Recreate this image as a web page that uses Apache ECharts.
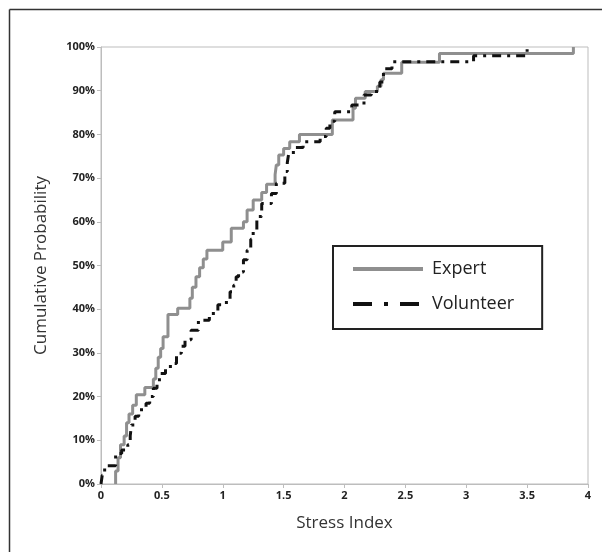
<!DOCTYPE html>
<html>
<head>
<meta charset="utf-8">
<script src="https://cdn.jsdelivr.net/npm/echarts@6/dist/echarts.min.js"></script>
<style>
html,body{margin:0;padding:0;background:#fff;}
#c{width:602px;height:552px;}
</style>
</head>
<body>
<div id="c"></div>
<script>
// Expert ECDF: stress index at each jump, cumulative % after the jump
const expertX = [0.12,0.12,0.14,0.16,0.19,0.21,0.23,0.26,0.29,0.36,0.43,0.45,0.47,0.49,0.51,0.55,0.63,0.73,0.75,0.78,0.81,0.84,0.87,1.00,1.07,1.17,1.20,1.25,1.32,1.36,1.43,1.44,1.46,1.50,1.55,1.63,1.90,2.07,2.09,2.17,2.27,2.30,2.32,2.47,2.78,3.88];
const expertP = [0,3,6,9,11,14,16,18,20.4,22.1,24,26.5,29,31,33.7,38.8,40.2,42.5,45,47.4,49.5,51.5,53.5,55.4,58.5,60,62.7,65,66.7,68.6,70.8,73,75.3,76.8,78.3,80,83.3,86,88.3,89.8,91,92.5,94,96.5,98.5,100];
// Volunteer ECDF
const volunteerX = [0,0.01,0.03,0.12,0.17,0.22,0.24,0.25,0.28,0.31,0.37,0.40,0.43,0.46,0.48,0.53,0.57,0.62,0.66,0.69,0.74,0.80,0.89,0.96,1.03,1.06,1.09,1.11,1.13,1.17,1.20,1.23,1.25,1.28,1.32,1.40,1.44,1.51,1.53,1.54,1.58,1.66,1.80,1.85,1.88,1.92,2.06,2.16,2.22,2.29,2.32,2.39,3.06,3.50];
const volunteerP = [0,2,4.2,7,7.8,9,11,13.5,15.5,17,18.5,20,21.9,23.5,25.3,26.5,27.6,29.9,31.5,33,35.2,37.5,39,41,42.1,44,45.5,47.4,48.5,51.3,53.5,56,58.1,61.2,64.2,66.5,68.8,71.5,73.5,75.3,77,78.3,79.5,81.4,83,85.2,86.7,89,89.8,92,95,96.6,98,99.5];
const seriesNames = ['Expert','Volunteer'];
const xTitle = 'Stress Index';
const yTitle = 'Cumulative Probability';

const pairs = (xs, ps) => xs.map((x, i) => [x, ps[i]]);
const FONT = '"Open Sans", sans-serif';

const chart = echarts.init(document.getElementById('c'), null, {renderer: 'canvas'});
chart.setOption({
  animation: false,
  backgroundColor: '#fff',
  grid: {left: 101, top: 47, right: 14, bottom: 68, show: true, borderColor: '#bdbdbd', borderWidth: 1},
  graphic: [
    {type: 'line', shape: {x1: 9.5, y1: 9.5, x2: 9.5, y2: 552}, style: {stroke: '#333', lineWidth: 1.5}},
    {type: 'line', shape: {x1: 9.5, y1: 9.5, x2: 602, y2: 9.5}, style: {stroke: '#333', lineWidth: 1.5}}
  ],
  xAxis: {
    type: 'value', min: 0, max: 4, interval: 0.5,
    name: xTitle, nameLocation: 'middle', nameGap: 31,
    nameTextStyle: {fontFamily: FONT, fontSize: 17, color: '#333'},
    axisLine: {lineStyle: {color: '#bdbdbd', width: 1}},
    axisTick: {show: true, length: 4, lineStyle: {color: '#bdbdbd'}},
    axisLabel: {fontFamily: FONT, fontSize: 11, fontWeight: 'bold', color: '#222', margin: 6},
    splitLine: {show: false}
  },
  yAxis: {
    type: 'value', min: 0, max: 100, interval: 10,
    name: yTitle, nameLocation: 'middle', nameGap: 51, nameRotate: 90,
    nameTextStyle: {fontFamily: FONT, fontSize: 17, color: '#333'},
    axisLine: {show: true, lineStyle: {color: '#bdbdbd', width: 1}},
    axisTick: {show: true, length: 4, lineStyle: {color: '#bdbdbd'}},
    axisLabel: {fontFamily: FONT, fontSize: 11, fontWeight: 'bold', color: '#222', margin: 6, formatter: '{value}%'},
    splitLine: {show: false}
  },
  legend: {
    orient: 'vertical', left: 333, top: 246,
    padding: [14, 28, 16, 18],
    itemWidth: 70, itemHeight: 14, itemGap: 17,
    borderColor: '#222', borderWidth: 2, backgroundColor: '#fff',
    textStyle: {fontFamily: FONT, fontSize: 18, color: '#222', padding: [0, 0, 0, 4]},
    data: [
      {name: seriesNames[0], itemStyle: {opacity: 0}, lineStyle: {color: '#8f8f8f', width: 4}},
      {name: seriesNames[1], itemStyle: {opacity: 0}, lineStyle: {color: '#111', width: 4, type: [19, 12, 4, 12]}}
    ]
  },
  series: [
    {
      name: seriesNames[0], type: 'line', step: 'end', showSymbol: false, symbol: 'none',
      data: pairs(expertX, expertP),
      lineStyle: {color: '#8f8f8f', width: 3},
      itemStyle: {color: '#8f8f8f'}
    },
    {
      name: seriesNames[1], type: 'line', step: 'end', showSymbol: false, symbol: 'none',
      data: pairs(volunteerX, volunteerP),
      lineStyle: {color: '#111', width: 3, type: [9, 6, 3, 6]},
      itemStyle: {color: '#111'}
    }
  ]
});
</script>
</body>
</html>
